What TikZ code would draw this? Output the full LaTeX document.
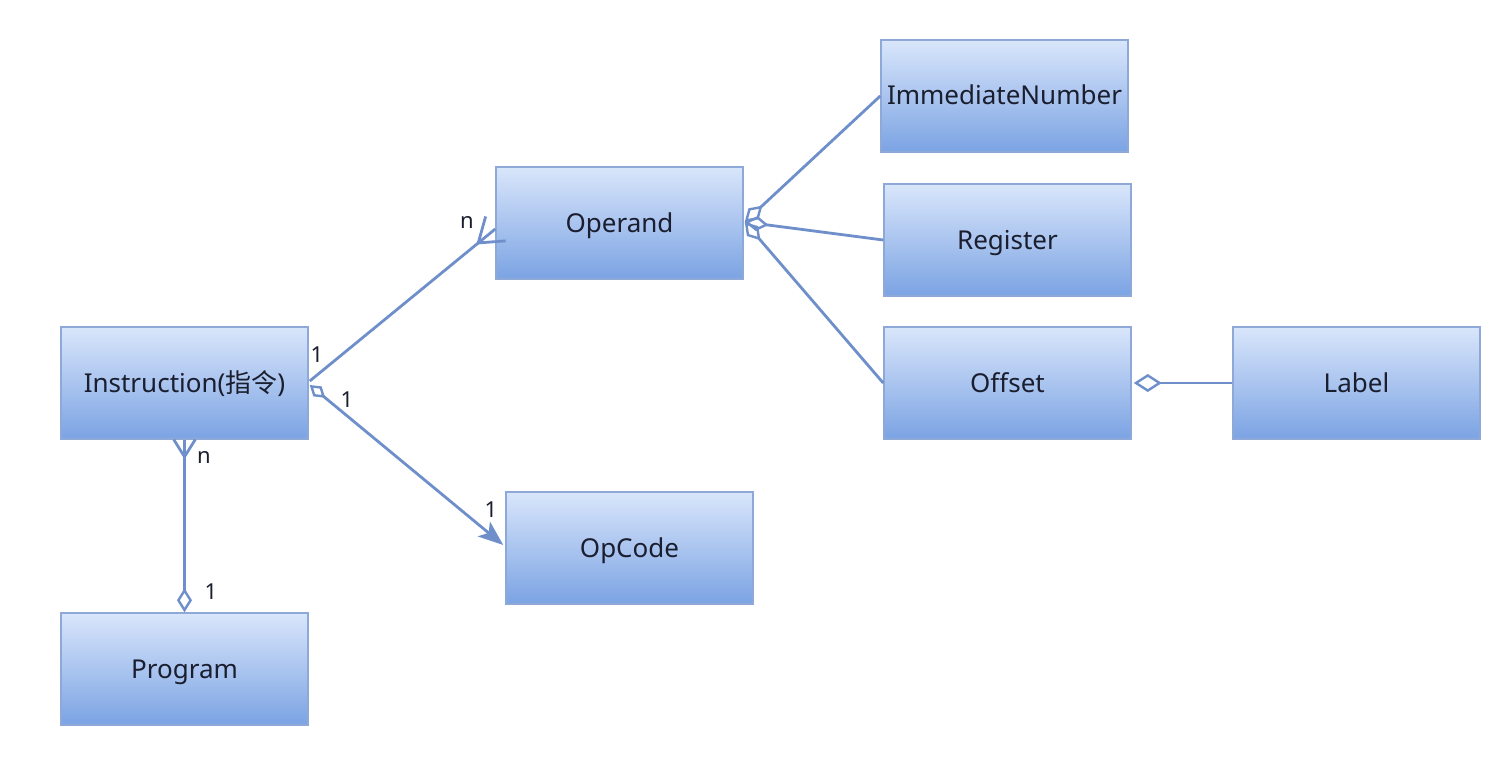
\documentclass[tikz,border=0pt]{standalone}
\usepackage{fontspec}
\setmainfont{Noto Sans}
\newfontfamily\cjk{Noto Sans CJK SC}
\usetikzlibrary{arrows.meta,calc}
\definecolor{lineblue}{HTML}{6E8FCA}
\definecolor{boxedge}{HTML}{8EA8D8}
\definecolor{boxtop}{HTML}{D9E6FB}
\definecolor{boxbot}{HTML}{7BA3E3}
\definecolor{txt}{HTML}{1A1E2E}
\tikzset{
  aggS/.tip={Diamond[open,length=20pt,width=13pt,line width=2.4pt]},
  aggM/.tip={Diamond[open,length=24pt,width=15pt,line width=2.4pt]},
  aggL/.tip={Diamond[open,length=28pt,width=18pt,line width=2.4pt]},
  arr/.tip={Stealth[length=25pt,width=19pt,inset=6pt]}
}
\begin{document}
\begin{tikzpicture}[x=1pt,y=-1pt,
  entity/.style={draw=boxedge,line width=1.5pt,top color=boxtop,bottom color=boxbot,
    minimum width=247pt,minimum height=112pt,inner sep=0pt,text=txt,
    text height=19pt,text depth=1pt,
    font=\fontsize{26}{30}\selectfont},
  conn/.style={draw=lineblue,line width=2.8pt},
  mult/.style={text=txt,font=\fontsize{22}{26}\selectfont,inner sep=0pt}
]
\useasboundingbox (0,0) rectangle (1507,757);
\fill[white] (0,0) rectangle (1507,757);

% boxes
\node[entity] (instr) at (184.5,383) {Instruction({\cjk 指令})};
\node[entity] (prog)  at (184.5,669) {Program};
\node[entity] (oper)  at (619.5,223) {Operand};
\node[entity] (opc)   at (629.5,548) {OpCode};
\node[entity] (imm)   at (1004.5,96) {ImmediateNumber};
\node[entity] (reg)   at (1007.5,240) {Register};
\node[entity] (off)   at (1007.5,383) {Offset};
\node[entity] (lab)   at (1356.5,383) {Label};

% Instruction -- Operand (1 : n), crow's foot at Operand
\coordinate (s1) at ($(instr.east)+(1,-2)$);
\coordinate (e1) at ($(oper.west)+(0,6)$);
\coordinate (a1) at ($(e1)!22pt!(s1)$);
\draw[conn] (s1) -- (e1);
\draw[conn,line join=round] ($(a1)!1.25!35:(e1)$) -- (a1) -- ($(a1)!1.25!-35:(e1)$);

% Instruction -- OpCode (aggregation, arrow)
\coordinate (s2) at ($(instr.east)+(1,2)$);
\coordinate (e2) at ($(opc.west)+(-2,-3)$);
\draw[conn,aggS-arr] (s2) -- (e2);

% Instruction -- Program (n : 1)
\coordinate (s3) at (instr.south);
\coordinate (e3) at (prog.north);
\coordinate (a3) at ($(s3)!17pt!(e3)$);
\draw[conn,-aggM] (s3) -- (e3);
\draw[conn,line join=round] ($(a3)!1.2!32:(s3)$) -- (a3) -- ($(a3)!1.2!-32:(s3)$);

% Operand -- ImmediateNumber / Register / Offset
\coordinate (o) at ($(oper.east)+(1,-1)$);
\draw[conn,aggM-] (o) -- (imm.west);
\draw[conn,aggM-] (o) -- (reg.west);
\draw[conn,aggM-] (o) -- (off.west);

% Offset -- Label
\draw[conn,aggL-] ($(off.east)+(2,0)$) -- (lab.west);

% multiplicities
\node[mult] (m1) at (317,355) {1};
\node[mult] (m2) at (467,222) {n};
\node[mult] (m3) at (347,400) {1};
\node[mult] (m4) at (491,510) {1};
\node[mult] (m5) at (204,457) {n};
\node[mult] (m6) at (211,592) {1};
\end{tikzpicture}
\end{document}
